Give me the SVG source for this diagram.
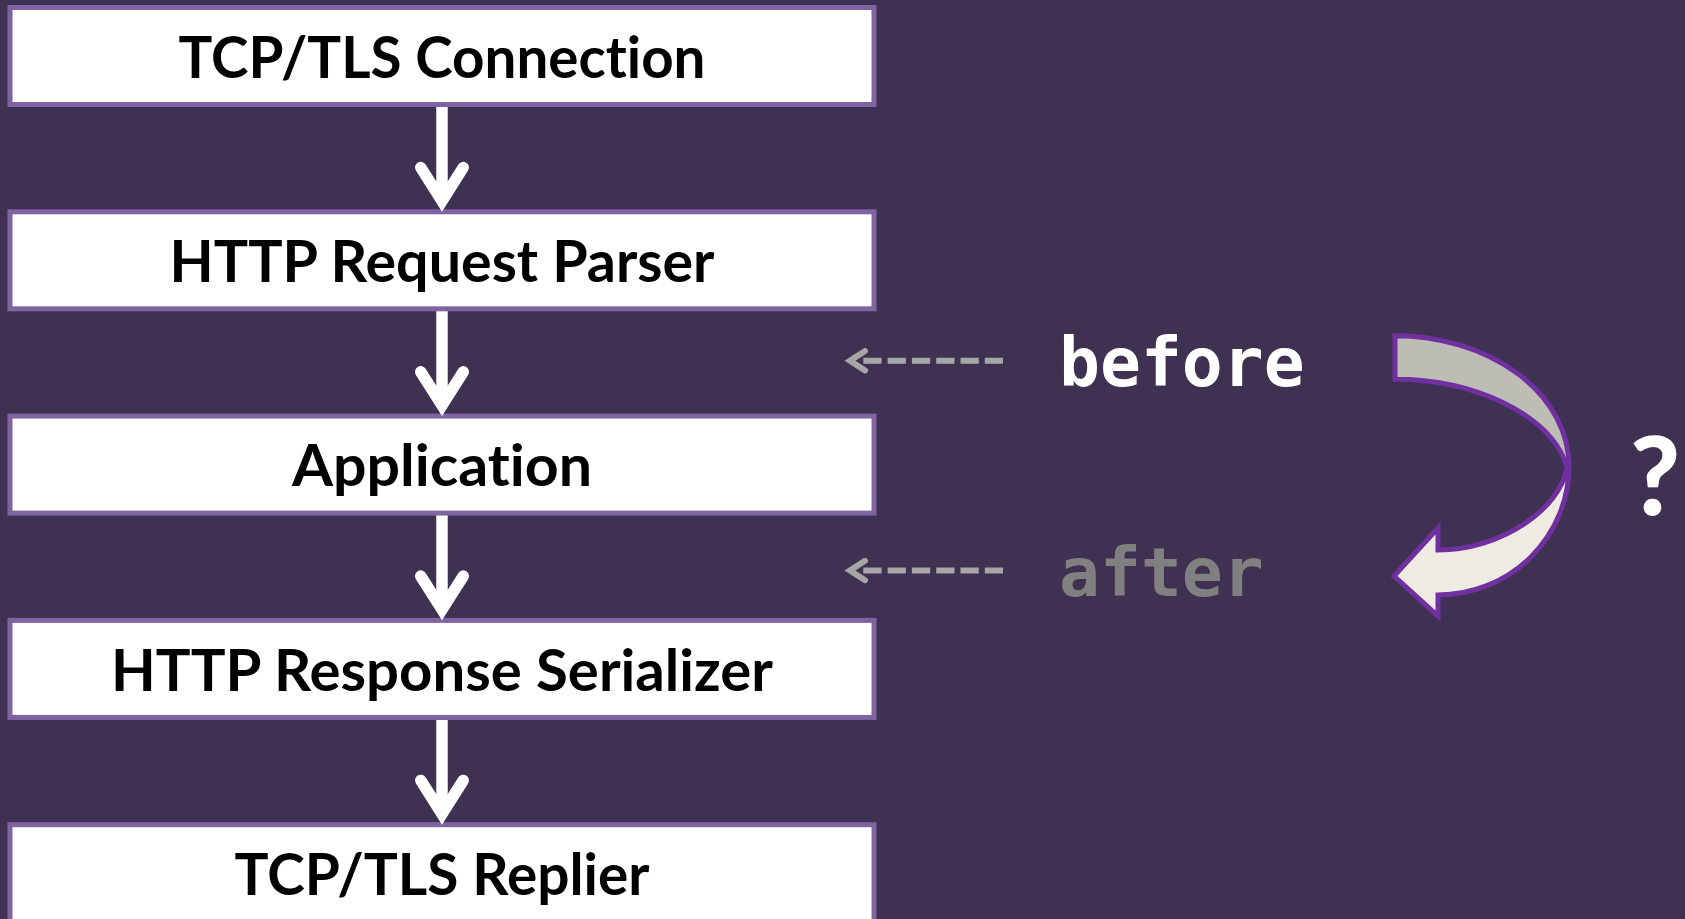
<svg xmlns="http://www.w3.org/2000/svg" width="1685" height="919" viewBox="0 0 1685 919">
<style>
.box{fill:#ffffff;stroke:#8064a2;stroke-width:5}
.lbl{font-family:Lato,"Open Sans","Liberation Sans",sans-serif;font-weight:bold;font-size:58px;fill:#000000;text-anchor:middle;font-variant-ligatures:none;font-feature-settings:"liga" 0,"clig" 0}
.shaft{stroke:#ffffff;stroke-width:11.5;fill:none}
.head{stroke:#ffffff;stroke-width:11.5;fill:none;stroke-linecap:round;stroke-linejoin:miter;stroke-miterlimit:6}
.dash{stroke:#a6a6a6;stroke-width:6;fill:none;stroke-dasharray:18.3 6}
.dhead{stroke:#a6a6a6;stroke-width:6;fill:none;stroke-linecap:round;stroke-linejoin:miter;stroke-miterlimit:6}
.mono{font-family:"DejaVu Sans Mono","Liberation Mono",monospace;font-weight:bold;font-size:68px}
.curve{stroke:#7030a0;stroke-width:5;stroke-linejoin:miter}
</style>
<rect x="0" y="0" width="1685" height="919" fill="#3f3152"/>

<g id="node-tcp-connection">
<rect class="box" x="10" y="7.5" width="864" height="97"/>
<text class="lbl" x="442" y="77.7" textLength="527" lengthAdjust="spacingAndGlyphs">TCP/TLS Connection</text>
</g>
<g id="node-request-parser">
<rect class="box" x="10" y="211.8" width="864" height="97"/>
<text class="lbl" x="442" y="282" textLength="545" lengthAdjust="spacingAndGlyphs">HTTP Request Parser</text>
</g>
<g id="node-application">
<rect class="box" x="10" y="416.1" width="864" height="97"/>
<text class="lbl" x="442" y="486.3" textLength="300" lengthAdjust="spacingAndGlyphs">Application</text>
</g>
<g id="node-response-serializer">
<rect class="box" x="10" y="620.4" width="864" height="97"/>
<text class="lbl" x="442" y="690.6" textLength="662" lengthAdjust="spacingAndGlyphs">HTTP Response Serializer</text>
</g>
<g id="node-tcp-replier">
<rect class="box" x="10" y="824.7" width="864" height="97"/>
<text class="lbl" x="442" y="894.9" textLength="415" lengthAdjust="spacingAndGlyphs">TCP/TLS Replier</text>
</g>

<g id="connectors">
<line class="shaft" x1="442" y1="107" x2="442" y2="201"/>
<polyline class="head" points="420.75,167.5 442,201 463.25,167.5"/>
<line class="shaft" x1="442" y1="311.3" x2="442" y2="405.3"/>
<polyline class="head" points="420.75,371.8 442,405.3 463.25,371.8"/>
<line class="shaft" x1="442" y1="515.6" x2="442" y2="609.6"/>
<polyline class="head" points="420.75,576.1 442,609.6 463.25,576.1"/>
<line class="shaft" x1="442" y1="719.9" x2="442" y2="813.9"/>
<polyline class="head" points="420.75,780.4 442,813.9 463.25,780.4"/>

<line class="dash" x1="863.3" y1="360.7" x2="1003" y2="360.7"/>
<polyline class="dhead" points="865,351 850,360.7 865,370.4"/>
<line class="dash" x1="863.3" y1="570.5" x2="1003" y2="570.5"/>
<polyline class="dhead" points="865,560.8 850,570.5 865,580.2"/>
</g>

<g id="label-before">
<text class="mono" x="1059" y="386" fill="#ffffff">before</text>
</g>
<g id="label-after">
<text class="mono" x="1059" y="596" fill="#808080">after</text>
</g>

<g id="curved-arrow">
<path class="curve" fill="#eeece2" d="M1569,466 A131,129 0 0 1 1438,595 L1438,616 L1394,576 L1438,528 L1438,550 C1500,550 1560,510 1567,467 Z"/>
<path class="curve" fill="#bdbdb5" d="M1395,335.7 A174,130.3 0 0 1 1569,466 L1567,467 C1550,412 1470,379.3 1395,379.3 Z"/>
</g>

<g id="label-question">
<text x="1655" y="515" font-family="Lato,'Open Sans','Liberation Sans',sans-serif" font-weight="900" font-size="108" fill="#ffffff" text-anchor="middle">?</text>
</g>
</svg>
